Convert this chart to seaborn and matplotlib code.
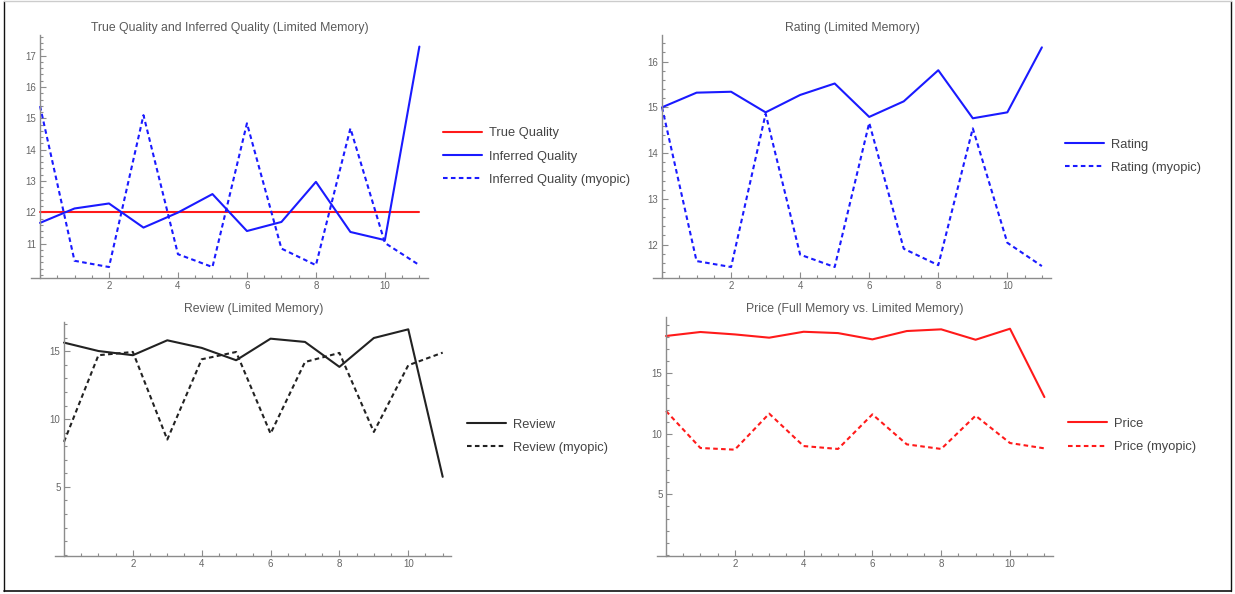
import pandas as pd
import matplotlib
matplotlib.use("Agg")
import matplotlib.pyplot as plt
import seaborn as sns
from matplotlib.ticker import MultipleLocator, FixedLocator
from matplotlib.lines import Line2D

# -------------------------------
# data
# -------------------------------
t = list(range(12))

true_quality = [12] * 12
inferred_quality = [11.66, 12.12, 12.28, 11.51, 11.99, 12.58, 11.40, 11.69, 12.97, 11.37, 11.11, 17.29]
inferred_myopic = [15.39, 10.45, 10.25, 15.10, 10.66, 10.25, 14.84, 10.84, 10.31, 14.68, 11.02, 10.31]

rating = [15.00, 15.32, 15.34, 14.89, 15.27, 15.52, 14.79, 15.13, 15.81, 14.76, 14.89, 16.31]
rating_myopic = [15.00, 11.64, 11.51, 14.86, 11.78, 11.51, 14.66, 11.91, 11.55, 14.54, 12.04, 11.53]

review = [15.64, 15.02, 14.71, 15.81, 15.25, 14.34, 15.93, 15.69, 13.85, 15.98, 16.62, 5.74]
review_myopic = [8.32, 14.71, 14.95, 8.49, 14.41, 14.95, 8.93, 14.21, 14.88, 9.05, 13.97, 14.90]

price = [18.09, 18.42, 18.22, 17.95, 18.44, 18.33, 17.81, 18.50, 18.64, 17.78, 18.69, 13.04]
price_myopic = [11.89, 8.83, 8.69, 11.67, 8.99, 8.75, 11.61, 9.13, 8.75, 11.50, 9.24, 8.80]

# -------------------------------
# style
# -------------------------------
sns.set_style("white")
plt.rcParams['font.family'] = ['Liberation Sans', 'DejaVu Sans']

W, H = 1235, 594
fig = plt.figure(figsize=(W / 100, H / 100), dpi=100)

RED = "#ff1a1a"
BLUE = "#1a1aff"
BLACK = "#222222"
AXIS_C = "#8c8c8c"
TEXT_C = "#666666"
DASH = (0, (2.2, 1.6))
LW = 1.5


def px_axes(left, top, right, bottom):
    # pixel box -> figure fraction
    return fig.add_axes([left / W, 1 - bottom / H, (right - left) / W, (bottom - top) / H])


def style_axes(ax, ylim, yticks, yminor, title, title_pad):
    ax.set_xlim(-0.25, 11.25)
    ax.set_ylim(*ylim)
    ax.spines['top'].set_visible(False)
    ax.spines['right'].set_visible(False)
    ax.spines['left'].set_position(('data', 0))
    for s in ('left', 'bottom'):
        ax.spines[s].set_color(AXIS_C)
        ax.spines[s].set_linewidth(1.0)
    ax.xaxis.set_major_locator(FixedLocator([2, 4, 6, 8, 10]))
    ax.xaxis.set_minor_locator(MultipleLocator(0.5))
    ax.yaxis.set_major_locator(FixedLocator(yticks))
    ax.yaxis.set_minor_locator(MultipleLocator(yminor))
    ax.tick_params(which='both', direction='in', color=AXIS_C, width=0.8,
                   bottom=True, left=True, top=False, right=False,
                   labelsize=7, labelcolor=TEXT_C, pad=2.5)
    ax.tick_params(which='major', length=4)
    ax.tick_params(which='minor', length=2.2)
    ax.set_xlabel("")
    ax.set_ylabel("")
    ax.set_title(title, fontsize=8.85, color="#5a5a5a", pad=title_pad)
    ax.set_facecolor("none")


def place_legend(ax, x_px, y_px):
    ax.legend(loc='center left', bbox_to_anchor=(x_px / W, 1 - y_px / H),
              bbox_transform=fig.transFigure, frameon=False, fontsize=9.3,
              handlelength=3.0, handletextpad=0.55, labelspacing=0.85,
              borderpad=0, borderaxespad=0, labelcolor="#444444")


# -------------------------------
# panel 1: quality
# -------------------------------
ax1 = px_axes(31.4, 35, 428, 278)
sns.lineplot(x=t, y=true_quality, ax=ax1, color=RED, linewidth=LW, label="True Quality")
sns.lineplot(x=t, y=inferred_quality, ax=ax1, color=BLUE, linewidth=LW, label="Inferred Quality")
sns.lineplot(x=t, y=inferred_myopic, ax=ax1, color=BLUE, linewidth=LW, linestyle=DASH,
             label="Inferred Quality (myopic)")
style_axes(ax1, (9.9, 17.66), list(range(11, 18)), 0.2,
           "True Quality and Inferred Quality (Limited Memory)", 3)
place_legend(ax1, 443, 156.5)

# -------------------------------
# panel 2: rating
# -------------------------------
ax2 = px_axes(653.4, 35, 1050.5, 278)
sns.lineplot(x=t, y=rating, ax=ax2, color=BLUE, linewidth=LW, label="Rating")
sns.lineplot(x=t, y=rating_myopic, ax=ax2, color=BLUE, linewidth=LW, linestyle=DASH,
             label="Rating (myopic)")
style_axes(ax2, (11.27, 16.58), list(range(12, 17)), 0.2, "Rating (Limited Memory)", 3)
place_legend(ax2, 1065, 156)

# -------------------------------
# panel 3: review
# -------------------------------
ax3 = px_axes(55.4, 322, 451.3, 556)
sns.lineplot(x=t, y=review, ax=ax3, color=BLACK, linewidth=LW, label="Review")
sns.lineplot(x=t, y=review_myopic, ax=ax3, color=BLACK, linewidth=LW, linestyle=DASH,
             label="Review (myopic)")
style_axes(ax3, (-0.1, 17.16), [5, 10, 15], 1, "Review (Limited Memory)", 7)
place_legend(ax3, 467, 436)

# -------------------------------
# panel 4: price
# -------------------------------
ax4 = px_axes(657.4, 317, 1053, 556)
sns.lineplot(x=t, y=price, ax=ax4, color=RED, linewidth=LW, label="Price")
sns.lineplot(x=t, y=price_myopic, ax=ax4, color=RED, linewidth=LW, linestyle=DASH,
             label="Price (myopic)")
style_axes(ax4, (-0.1, 19.66), [5, 10, 15], 1, "Price (Full Memory vs. Limited Memory)", 3.5)
place_legend(ax4, 1068, 435.5)

# frame around the whole picture
def fig_line(x0, y0, x1, y1, color, lw):
    fig.add_artist(Line2D([x0 / W, x1 / W], [1 - y0 / H, 1 - y1 / H],
                          transform=fig.transFigure, color=color, linewidth=lw))

fig_line(3.5, 0.5, 3.5, 591, "#111111", 1.0)
fig_line(1231, 0.5, 1231, 591, "#111111", 1.0)
fig_line(3.5, 591, 1231, 591, "#111111", 1.2)
fig_line(3.5, 0.5, 1231, 0.5, "#cccccc", 1.0)

fig.savefig("out.png", dpi=100)
